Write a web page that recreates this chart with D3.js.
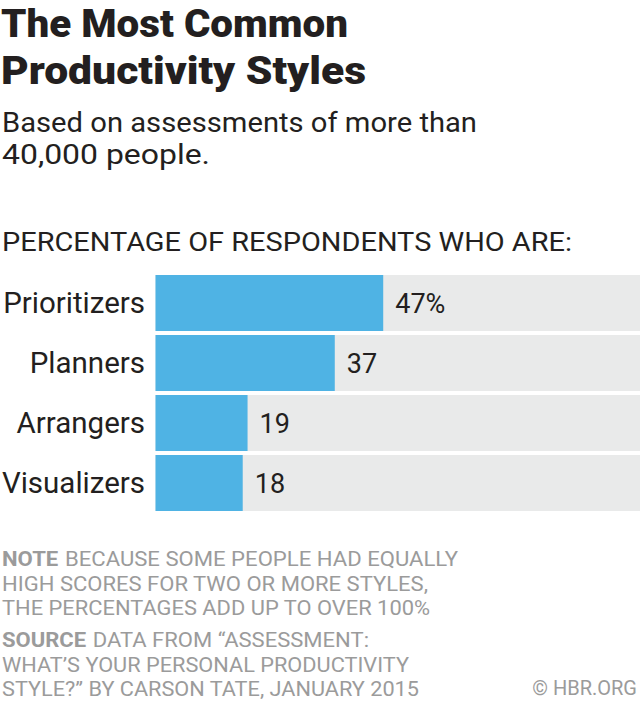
<!DOCTYPE html>
<html>
<head>
<meta charset="utf-8">
<script src="https://cdn.jsdelivr.net/npm/d3@7"></script>
<style>
  html, body { margin: 0; padding: 0; background: #fff; }
  svg { display: block; }
  text { font-family: Roboto, "Open Sans", sans-serif; }
</style>
</head>
<body>
<svg id="chart" width="640" height="703"></svg>
<script>
const categories = ["Prioritizers", "Planners", "Arrangers", "Visualizers"];
const values = [47, 37, 19, 18];
const valueLabels = ["47%", "37", "19", "18"];
const titleLines = ["The Most Common", "Productivity Styles"];
const subtitleLines = ["Based on assessments of more than", "40,000 people."];
const axisHeader = "PERCENTAGE OF RESPONDENTS WHO ARE:";
const noteLines = [
  ["NOTE", "BECAUSE SOME PEOPLE HAD EQUALLY"],
  ["", "HIGH SCORES FOR TWO OR MORE STYLES,"],
  ["", "THE PERCENTAGES ADD UP TO OVER 100%"]
];
const sourceLines = [
  ["SOURCE", "DATA FROM \u201CASSESSMENT:"],
  ["", "WHAT\u2019S YOUR PERSONAL PRODUCTIVITY"],
  ["", "STYLE?\u201D BY CARSON TATE, JANUARY 2015"]
];
const credit = "\u00A9 HBR.ORG";

const svg = d3.select("#chart");
const W = 640;

function fit(sel, target) {
  const n = sel.node();
  const w = n.getComputedTextLength();
  if (Math.abs(w - target) > 2) {
    sel.attr("textLength", target).attr("lengthAdjust", "spacingAndGlyphs");
  }
}

// Title
const titleWidths = [347, 365];
titleLines.forEach((t, i) => {
  const s = svg.append("text")
    .attr("x", 1).attr("y", 37 + i * 46.5)
    .attr("font-size", 38).attr("font-weight", 900)
    .attr("fill", "#231f20").text(t);
  fit(s, titleWidths[i]);
});

// Subtitle
const subWidths = [475, 208];
subtitleLines.forEach((t, i) => {
  const s = svg.append("text")
    .attr("x", 2).attr("y", 132 + i * 32)
    .attr("font-size", 27).attr("font-weight", 400)
    .attr("fill", "#231f20").text(t);
  fit(s, subWidths[i]);
});

// Axis header
const hdr = svg.append("text")
  .attr("x", 2).attr("y", 251)
  .attr("font-size", 26).attr("fill", "#231f20").text(axisHeader);
fit(hdr, 570);

// Bars
const x = d3.scaleLinear().domain([0, 100]).range([155.5, W]);
const y = d3.scaleBand().domain(categories).range([275, 511]).paddingInner(4 / 60).paddingOuter(0);
const rows = svg.append("g");
rows.selectAll("rect.bg").data(categories).join("rect")
  .attr("class", "bg")
  .attr("x", x(0)).attr("y", d => y(d))
  .attr("width", x(100) - x(0)).attr("height", y.bandwidth())
  .attr("fill", "#e9eaea");
rows.selectAll("rect.bar").data(values).join("rect")
  .attr("class", "bar")
  .attr("x", x(0)).attr("y", (d, i) => y(categories[i]))
  .attr("width", d => x(d) - x(0)).attr("height", y.bandwidth())
  .attr("fill", "#4fb3e4");

rows.selectAll("text.cat").data(categories).join("text")
  .attr("class", "cat")
  .attr("x", 145).attr("y", d => y(d) + y.bandwidth() / 2 + 10)
  .attr("text-anchor", "end").attr("font-size", 29.5)
  .attr("fill", "#231f20").text(d => d);

rows.selectAll("text.val").data(values).join("text")
  .attr("class", "val")
  .attr("x", d => x(d) + 12).attr("y", (d, i) => y(categories[i]) + y.bandwidth() / 2 + 10)
  .attr("font-size", 27).attr("fill", "#231f20")
  .text((d, i) => valueLabels[i]);

// Notes
const grey = "#9b9b9b";
function block(lines, y0, widths) {
  lines.forEach((ln, i) => {
    const t = svg.append("text")
      .attr("x", 2).attr("y", y0 + i * 24.7)
      .attr("font-size", 20).attr("fill", grey);
    if (ln[0]) {
      t.append("tspan").attr("font-weight", 700).text(ln[0]);
      t.append("tspan").attr("dx", 6).text(ln[1]);
    } else {
      t.text(ln[1]);
    }
    fit(t, widths[i]);
  });
}
block(noteLines, 566, [456, 426, 428]);
block(sourceLines, 647, [367, 407, 417]);

svg.append("text")
  .attr("x", 637).attr("y", 695)
  .attr("text-anchor", "end").attr("font-size", 20)
  .attr("fill", grey).text(credit);
</script>
</body>
</html>
